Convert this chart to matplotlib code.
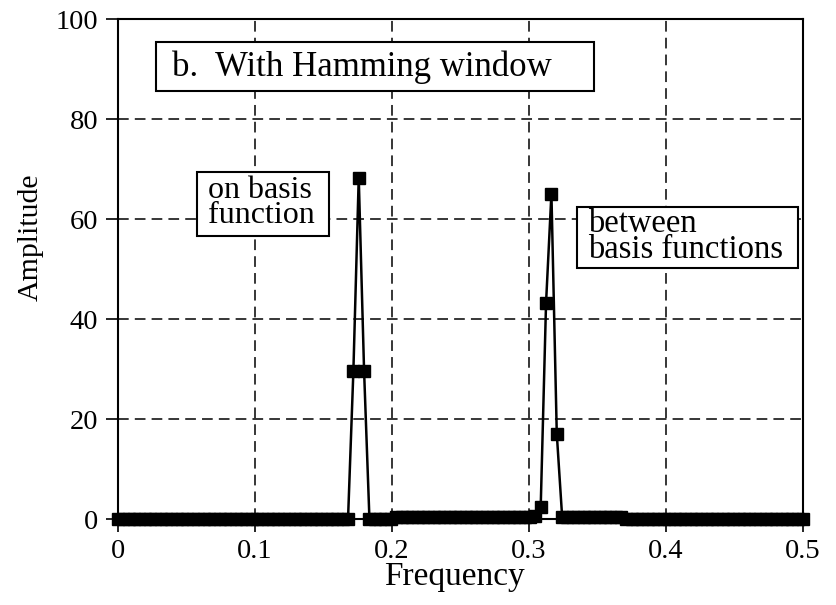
import numpy as np
import matplotlib
matplotlib.use("Agg")
import matplotlib.pyplot as plt
from matplotlib.patches import Rectangle

# data (128-bin spectrum, frequency 0..0.5)
n_bins = 129
low_zero_1 = [0.0] * 44                 # bins 0-43
peak_on = [29.6, 68.3, 29.6]            # bins 44-46
low_zero_2 = [0.0] * 5                  # bins 47-51
leak_left = [0.4] * 26                  # bins 52-77
peak_between = [0.6, 2.5, 43.3, 65.1, 17.1, 0.5]   # bins 78-83
leak_right = [0.4] * 11                 # bins 84-94
low_zero_3 = [0.0] * 34                 # bins 95-128

amplitude = low_zero_1 + peak_on + low_zero_2 + leak_left + peak_between + leak_right + low_zero_3
frequency = np.linspace(0, 0.5, n_bins)

xticks = [0, 0.1, 0.2, 0.3, 0.4, 0.5]
xticklabels = ["0", "0.1", "0.2", "0.3", "0.4", "0.5"]
yticks = [0, 20, 40, 60, 80, 100]

plt.rcParams['font.family'] = ['Liberation Serif', 'DejaVu Serif']

fig = plt.figure(figsize=(8.36, 6.05), dpi=100)
ax = fig.add_axes([0.141, 0.142, 0.8195, 0.8265])

ax.plot(frequency, amplitude, color="black", linewidth=1.8,
        marker="s", markersize=8.5, clip_on=False, zorder=5)

ax.set_xlim(0, 0.5)
ax.set_ylim(0, 100)
ax.set_xticks(xticks)
ax.set_xticklabels(xticklabels)
ax.set_yticks(yticks)
ax.tick_params(direction="out", length=9, width=1.2, labelsize=20.5, pad=5)
ax.grid(True, color="black", linestyle=(0, (7, 4)), linewidth=1.1)
for s in ax.spines.values():
    s.set_linewidth(1.5)

ax.set_xlabel("Frequency", fontsize=24, labelpad=0)
ax.xaxis.set_label_coords(0.492, -0.085)
ax.set_ylabel("Amplitude", fontsize=21.5)
ax.yaxis.set_label_coords(-0.108, 0.564)

# annotation boxes (x0, y0, x1, y1 in data units)
boxes = [(0.0277, 85.6, 0.3474, 95.4),
         (0.0577, 56.6, 0.1540, 69.4),
         (0.3350, 50.2, 0.4964, 62.4)]
for x0, y0, x1, y1 in boxes:
    ax.add_patch(Rectangle((x0, y0), x1 - x0, y1 - y0, facecolor="white",
                           edgecolor="black", linewidth=1.5, zorder=6))

ax.text(0.0394, 90.3, "b.  With Hamming window", fontsize=25, va="center", ha="left", zorder=7)
ax.text(0.0657, 63.2, "on basis\nfunction", fontsize=23, va="center", ha="left",
        linespacing=0.8, zorder=7)
ax.text(0.3430, 56.5, "between\nbasis functions", fontsize=23.5, va="center", ha="left",
        linespacing=0.8, zorder=7)

fig.savefig("out.png", dpi=100)
